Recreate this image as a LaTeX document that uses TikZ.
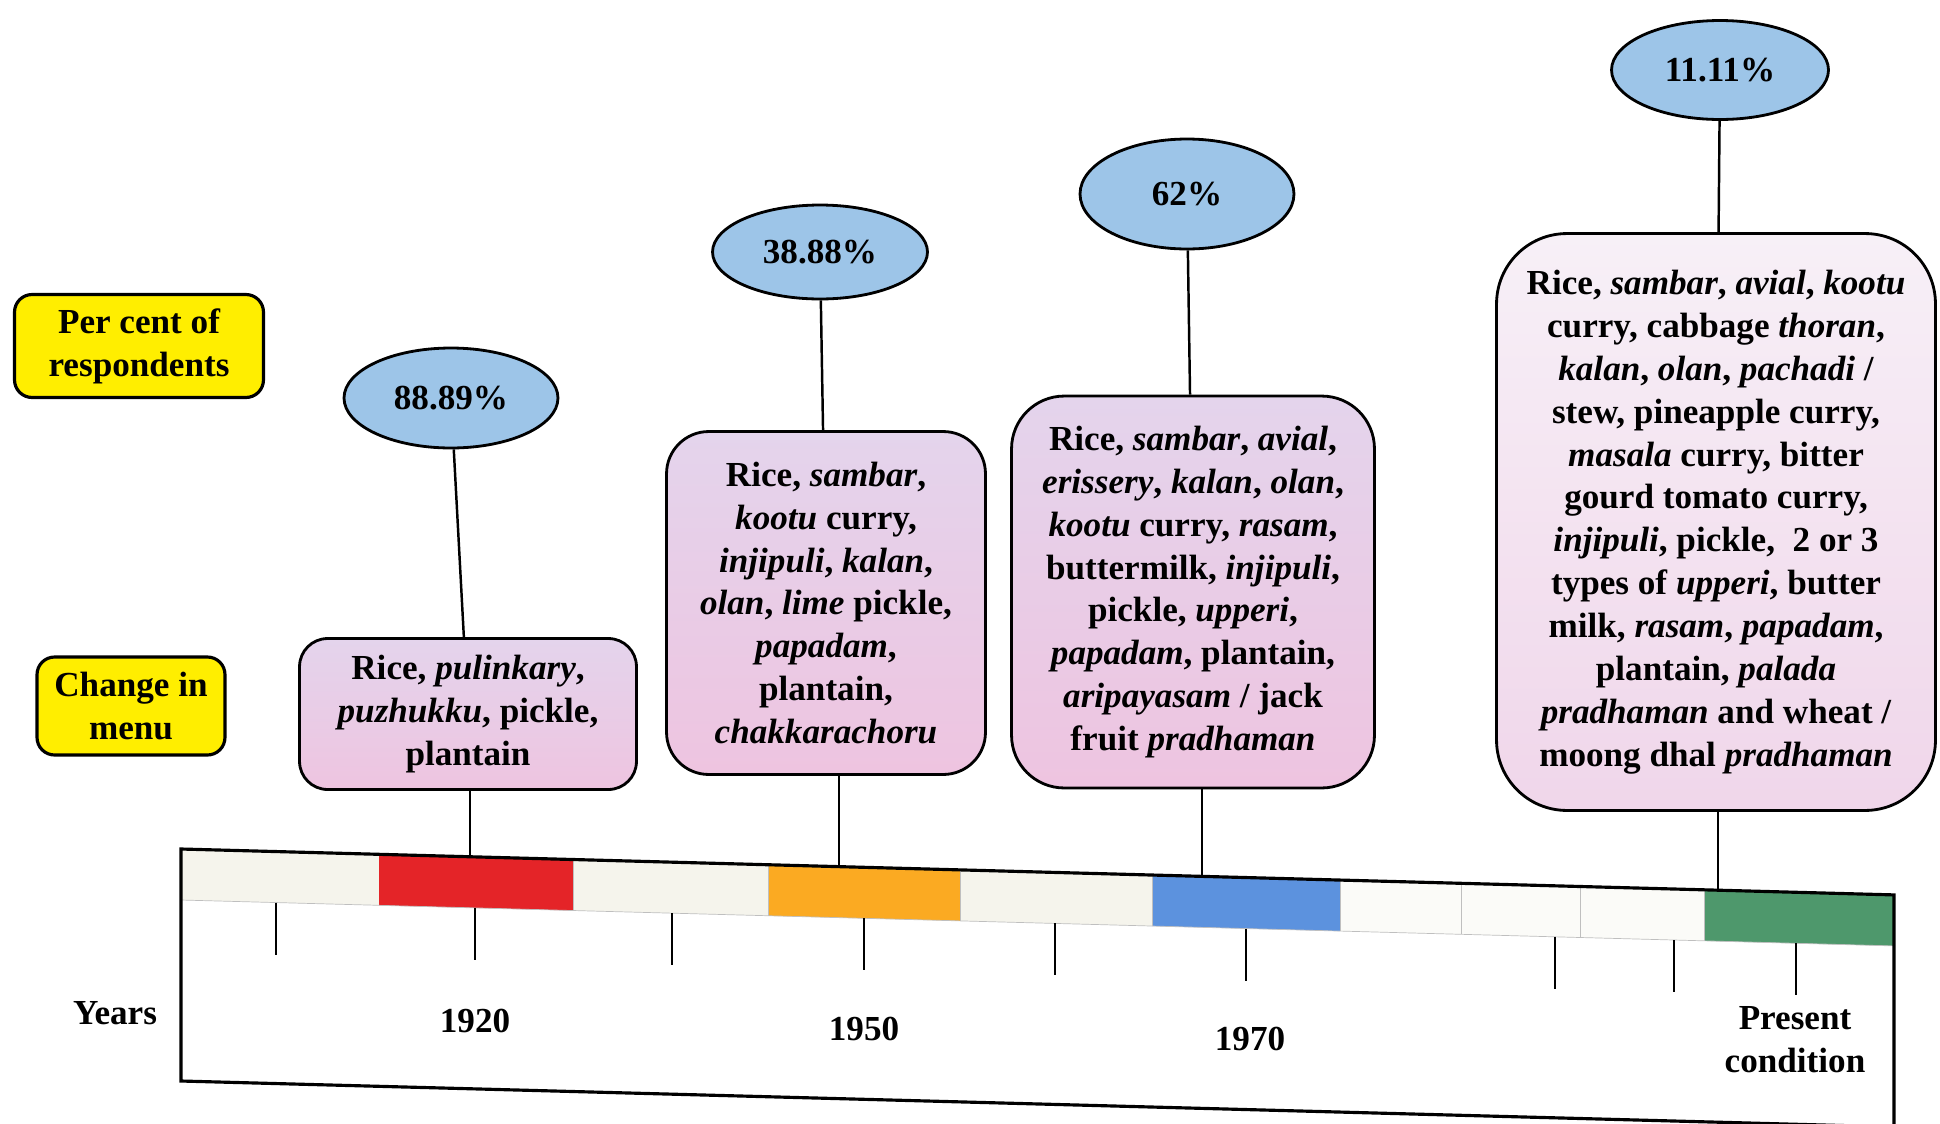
\documentclass[tikz,border=0pt]{standalone}
\usepackage{fontspec}
\setmainfont{Liberation Serif}
\usetikzlibrary{shapes.geometric}

\definecolor{labelyellow}{RGB}{255,238,0}
\definecolor{pctblue}{RGB}{157,197,232}
\definecolor{lavtop}{RGB}{228,212,236}
\definecolor{pinkbot}{RGB}{238,196,224}
\definecolor{lavtopL}{RGB}{247,240,247}
\definecolor{pinkbotL}{RGB}{240,214,234}
\definecolor{cellcream}{RGB}{245,244,236}
\definecolor{cellwhite}{RGB}{251,251,248}
\definecolor{barred}{RGB}{228,36,40}
\definecolor{barorange}{RGB}{251,170,34}
\definecolor{barblue}{RGB}{92,146,222}
\definecolor{bargreen}{RGB}{78,152,108}

\tikzset{
  txt/.style={font=\fontsize{20}{24.4}\selectfont\bfseries, align=center, inner sep=0pt},
  sidelabel/.style={txt, draw, line width=1.8pt, fill=labelyellow, rounded corners=10pt},
  pct/.style={txt, ellipse, draw, line width=1.6pt, fill=pctblue},
  menubox/.style={txt, draw, line width=1.6pt, top color=lavtop, bottom color=pinkbot},
  menuboxlight/.style={txt, draw, line width=1.6pt, top color=lavtopL, bottom color=pinkbotL},
  link/.style={line width=1.4pt},
  tick/.style={line width=1.4pt},
  edge/.style={line width=1.8pt},
  cellline/.style={line width=0.4pt, draw=black!25},
}

\begin{document}
\begin{tikzpicture}[x=0.02cm, y=0.02cm]
\useasboundingbox (0,0) rectangle (1940,-1123);

% side labels
\node[sidelabel, minimum width=4.98cm, minimum height=2.06cm] (lblpct) at (139,-346)
  {Per cent of\\respondents};
\node[sidelabel, minimum width=3.76cm, minimum height=1.96cm] (lblmenu) at (131,-706)
  {Change in\\menu};

% percentages
\node[pct, minimum width=4.28cm, minimum height=2.00cm] (p1) at (451,-398) {88.89\%};
\node[pct, minimum width=4.30cm, minimum height=1.88cm] (p2) at (820,-252) {38.88\%};
\node[pct, minimum width=4.28cm, minimum height=2.20cm] (p3) at (1187,-194) {62\%};
\node[pct, minimum width=4.34cm, minimum height=1.98cm] (p4) at (1720,-70) {11.11\%};

% menus
\node[menubox, rounded corners=16pt, minimum width=6.74cm, minimum height=3.02cm] (m1) at (468,-714)
  {Rice, \textit{pulinkary},\\ \textit{puzhukku}, pickle,\\ plantain};
\node[menubox, rounded corners=24pt, minimum width=6.38cm, minimum height=6.86cm] (m2) at (826,-603)
  {Rice, \textit{sambar},\\ \textit{kootu} curry,\\ \textit{injipuli}, \textit{kalan},\\
   \textit{olan}, \textit{lime} pickle,\\ \textit{papadam},\\ plantain,\\ \textit{chakkarachoru}};
\node[menubox, rounded corners=30pt, minimum width=7.26cm, minimum height=7.84cm] (m3) at (1193,-592)
  {Rice, \textit{sambar}, \textit{avial},\\ \textit{erissery}, \textit{kalan}, \textit{olan},\\
   \textit{kootu} curry, \textit{rasam},\\ buttermilk, \textit{injipuli},\\ pickle, \textit{upperi},\\
   \textit{papadam}, plantain,\\ \textit{aripayasam} / jack\\ fruit \textit{pradhaman}};
\node[menuboxlight, rounded corners=40pt, minimum width=8.78cm, minimum height=11.54cm] (m4) at (1716,-522)
  {Rice, \textit{sambar}, \textit{avial}, \textit{kootu}\\ curry, cabbage \textit{thoran},\\
   \textit{kalan}, \textit{olan}, \textit{pachadi} /\\ stew, pineapple curry,\\
   \textit{masala} curry, bitter\\ gourd tomato curry,\\ \textit{injipuli}, pickle,\ \ 2 or 3\\
   types of \textit{upperi}, butter\\ milk, \textit{rasam}, \textit{papadam},\\
   plantain, \textit{palada}\\ \textit{pradhaman} and wheat /\\ moong dhal \textit{pradhaman}};

% percentage to menu links
\draw[link] (p1) -- (m1);
\draw[link] (p2) -- (m2);
\draw[link] (p3) -- (m3);
\draw[link] (p4) -- (m4);

\node[txt] (years) at (115,-1013) {Years};

% timeline bar, sloping slightly down to the right
\begin{scope}[shift={(181,-849)}, yslant=-0.0268]
  \fill[cellcream] (0,0) rectangle (198,-51);
  \fill[barred] (198,0) rectangle (392,-51);
  \fill[cellcream] (392,0) rectangle (587,-51);
  \fill[barorange] (587,0) rectangle (779,-51);
  \fill[cellcream] (779,0) rectangle (971,-51);
  \fill[barblue] (971,0) rectangle (1159,-51);
  \fill[cellwhite] (1159,0) rectangle (1523,-51);
  \fill[bargreen] (1523,0) rectangle (1713,-51);
  \foreach \u in {392,587,779,971,1159,1280,1399,1523}
    \draw[cellline] (\u,0) -- (\u,-51);
  \draw[cellline] (0,-51) -- (1713,-51);
  \draw[edge] (0,0) -- (1713,0) -- (1713,-232) -- (0,-232) -- cycle;

  \foreach \u in {95,294,491,683,874,1065,1374,1493,1615}
    \draw[tick] (\u,-51) -- (\u,-103);

  \coordinate (t1) at (289,0);
  \coordinate (t2) at (658,0);
  \coordinate (t3) at (1021,0);
  \coordinate (t4) at (1537,0);

  \node[txt] (y1920) at (294,-164) {1920};
  \node[txt] (y1950) at (683,-162) {1950};
  \node[txt] (y1970) at (1069,-161) {1970};
  \node[txt] (ynow) at (1614,-147) {Present\\condition};
\end{scope}

% menu to timeline links
\draw[link] (t1 |- m1.south) -- (t1);
\draw[link] (t2 |- m2.south) -- (t2);
\draw[link] (t3 |- m3.south) -- (t3);
\draw[link] (t4 |- m4.south) -- (t4);
\end{tikzpicture}
\end{document}
